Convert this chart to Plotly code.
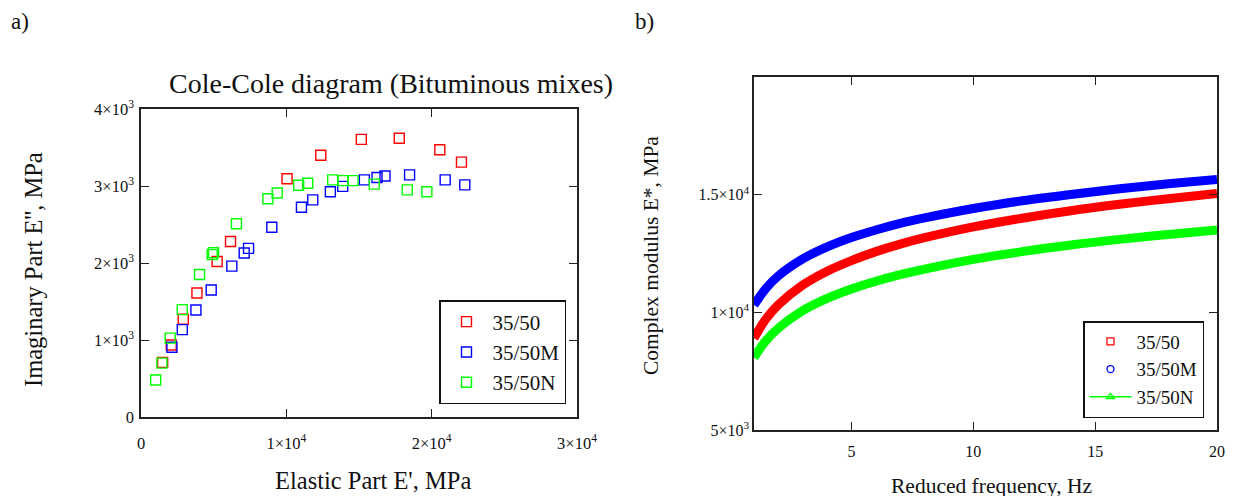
import plotly.graph_objects as go

# ---------------- data: a) Cole-Cole diagram ----------------
e1_3550 = [1490, 2080, 2910, 3850, 5240, 6160, 10050, 12370, 15160, 17770, 20560, 22050]
e2_3550 = [710, 935, 1270, 1610, 2020, 2280, 3095, 3400, 3605, 3620, 3470, 3310]

e1_3550M = [2130, 2840, 3780, 4830, 6250, 7100, 7400, 9000, 11040, 11820, 13030, 13880,
            15370, 16240, 16790, 18480, 20930, 22280]
e2_3550M = [905, 1135, 1390, 1650, 1960, 2130, 2190, 2465, 2725, 2820, 2925, 2995,
            3080, 3110, 3130, 3145, 3080, 3015]

e1_3550N = [1010, 1440, 2010, 2840, 4030, 4900, 4990, 6570, 8730, 9370, 10850, 11470,
            13190, 13900, 14590, 16050, 18320, 19670]
e2_3550N = [480, 700, 1025, 1395, 1850, 2110, 2135, 2510, 2835, 2910, 3010, 3035,
            3080, 3070, 3070, 3025, 2950, 2925]

# ---------------- data: b) complex modulus vs frequency ----------------
freq = [1, 1.5, 2, 3, 4, 5, 6, 7, 8, 10, 12, 14, 16, 18, 20]
mod_3550 = [8900, 9730, 10320, 11160, 11750, 12200, 12580, 12900, 13170, 13630, 14000, 14320, 14590, 14830, 15050]
mod_3550M = [10310, 11030, 11550, 12270, 12780, 13180, 13500, 13780, 14010, 14410, 14740, 15010, 15250, 15460, 15650]
mod_3550N = [8080, 8810, 9330, 10070, 10590, 10990, 11320, 11600, 11840, 12250, 12580, 12860, 13100, 13310, 13500]

series_names = ["35/50", "35/50M", "35/50N"]
colors = ["#ff0000", "#0000ff", "#00ff00"]

left_xticks = [0, 10000, 20000, 30000]
left_xticktext = ["0", "1×10<sup>4</sup>", "2×10<sup>4</sup>", "3×10<sup>4</sup>"]
left_yticks = [0, 1000, 2000, 3000, 4000]
left_yticktext = ["0", "1×10<sup>3</sup>", "2×10<sup>3</sup>", "3×10<sup>3</sup>", "4×10<sup>3</sup>"]
right_xticks = [5, 10, 15, 20]
right_xticktext = ["5", "10", "15", "20"]
right_yticks = [5000, 10000, 15000]
right_yticktext = ["5×10<sup>3</sup>", "1×10<sup>4</sup>", "1.5×10<sup>4</sup>"]

# ---------------- layout helpers ----------------
W, H = 1238, 496
OFF = 8  # page body margin
FONT = "Liberation Serif"


def px(x):
    return (x - OFF) / W


def py(y):
    return 1 - (y - OFF) / H


fig = go.Figure()

# a) scatter
for name, xs, ys, c in zip(series_names,
                           [e1_3550, e1_3550M, e1_3550N],
                           [e2_3550, e2_3550M, e2_3550N], colors):
    fig.add_trace(go.Scatter(
        x=xs, y=ys, mode="markers", name=name,
        marker=dict(symbol="square-open", size=10, color=c, line=dict(width=1.4, color=c)),
        xaxis="x", yaxis="y", legend="legend"))

# b) curves
for name, ys, c in zip(series_names, [mod_3550, mod_3550M, mod_3550N], colors):
    fig.add_trace(go.Scatter(
        x=freq, y=ys, mode="lines", name=name, showlegend=False,
        line=dict(color=c, width=9, shape="spline"),
        xaxis="x2", yaxis="y2"))

# legend proxies for b)
legend_styles = [
    dict(mode="markers", marker=dict(symbol="square-open", size=7, color=colors[0], line=dict(width=1.3))),
    dict(mode="markers", marker=dict(symbol="circle-open", size=7, color=colors[1], line=dict(width=1.3))),
    dict(mode="lines+markers", marker=dict(symbol="triangle-up-open", size=7, color=colors[2], line=dict(width=1.3)),
         line=dict(color=colors[2], width=1.3)),
]
for name, st in zip(series_names, legend_styles):
    fig.add_trace(go.Scatter(x=[None], y=[None], name=name, xaxis="x2", yaxis="y2",
                             legend="legend2", **st))

axis_common = dict(showline=True, linecolor="#222", linewidth=1.5, mirror="allticks",
                   ticks="inside", ticklen=8, tickwidth=1.2, tickcolor="#222",
                   showgrid=False, zeroline=False, tickmode="array", automargin=False)

fig.update_layout(
    width=W, height=H,
    margin=dict(l=0, r=0, t=0, b=0, autoexpand=False),
    paper_bgcolor="white", plot_bgcolor="white",
    font=dict(family=FONT, color="#111"),
    showlegend=True,
    xaxis=dict(domain=[px(141), px(577)], range=[0, 30000], tickvals=left_xticks,
               ticktext=left_xticktext, tickfont=dict(size=16.5, family=FONT),
               ticklabelstandoff=10, anchor="y", **axis_common),
    yaxis=dict(domain=[py(417), py(109)], range=[0, 4000], tickvals=left_yticks,
               ticktext=left_yticktext, tickfont=dict(size=16.5, family=FONT),
               ticklabelstandoff=2, anchor="x", **axis_common),
    xaxis2=dict(domain=[px(754), px(1217)], range=[1, 20], tickvals=right_xticks,
                ticktext=right_xticktext, tickfont=dict(size=16, family=FONT),
                ticklabelstandoff=6, anchor="y2", **axis_common),
    yaxis2=dict(domain=[py(430), py(77)], range=[5000, 20000], tickvals=right_yticks,
                ticktext=right_yticktext, tickfont=dict(size=16, family=FONT),
                ticklabelstandoff=0, anchor="x2", **axis_common),
    legend=dict(x=px(566), xanchor="right", y=py(404), yanchor="bottom",
                bordercolor="#111", borderwidth=1.5, bgcolor="white", itemwidth=42,
                font=dict(size=21, family=FONT, color="#111"), tracegroupgap=0),
    legend2=dict(x=px(1204), xanchor="right", y=py(418), yanchor="bottom",
                 bordercolor="#111", borderwidth=1.5, bgcolor="white", itemwidth=42,
                 font=dict(size=19, family=FONT, color="#111"), tracegroupgap=0),
)

annotations = [
    dict(text="a)", x=px(20), y=py(22), font=dict(size=23)),
    dict(text="b)", x=px(644), y=py(22), font=dict(size=23)),
    dict(text="Cole-Cole diagram (Bituminous mixes)", x=px(391), y=py(83), font=dict(size=28)),
    dict(text="Imaginary Part E'', MPa", x=px(33), y=py(270), font=dict(size=24.5), textangle=-90),
    dict(text="Elastic Part E', MPa", x=px(373), y=py(480), font=dict(size=24.5)),
    dict(text="Complex modulus E*, MPa", x=px(651), y=py(256), font=dict(size=21.5), textangle=-90),
    dict(text="Reduced frequency, Hz", x=px(991), y=py(486), font=dict(size=21.5)),
]
for a in annotations:
    fig.add_annotation(xref="paper", yref="paper", showarrow=False,
                       xanchor="center", yanchor="middle",
                       font_family=FONT, font_color="#111", **a)

fig.write_html("out.html")
